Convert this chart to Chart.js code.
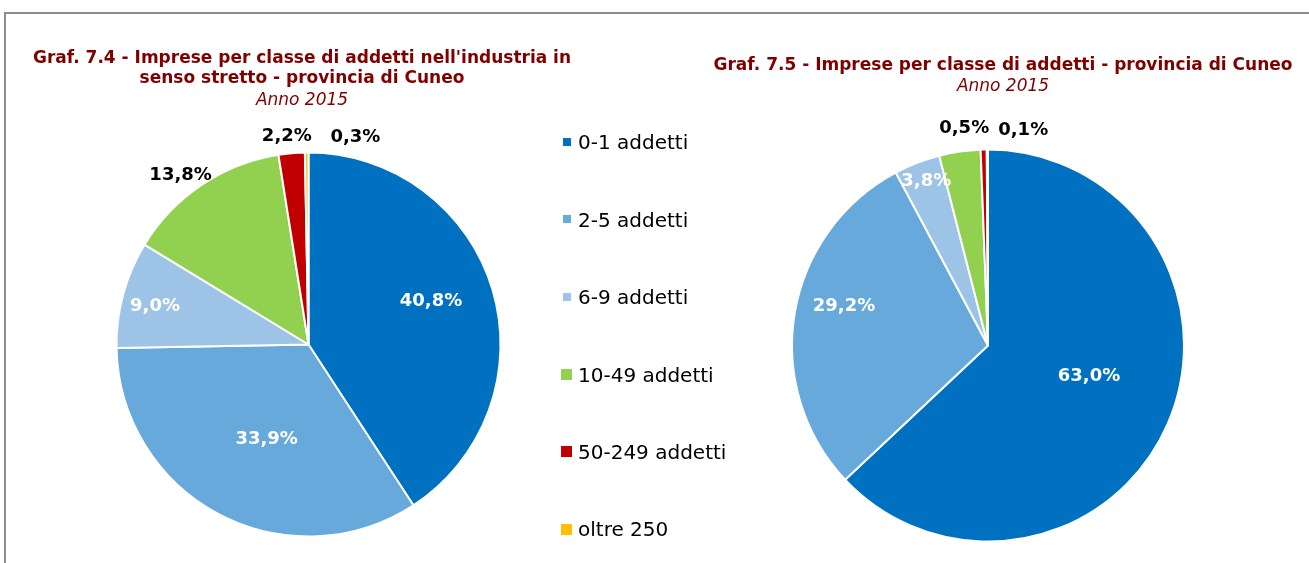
<!DOCTYPE html>
<html>
<head>
<meta charset="utf-8">
<script src="https://cdn.jsdelivr.net/npm/chart.js@4.4.1/dist/chart.umd.min.js"></script>
<style>
  html, body { margin: 0; padding: 0; background: #ffffff; width: 1309px; height: 563px; overflow: hidden;
    font-family: "DejaVu Sans", Verdana, sans-serif; }
  #frame { position: absolute; left: 4px; top: 12px; width: 1320px; height: 600px;
    border-top: 2px solid #8c8c8c; border-left: 2px solid #8c8c8c; }
  canvas { position: absolute; top: 0; }
  .title { position: absolute; width: 600px; text-align: center; color: #800000; font-size: 17px;
    line-height: 20px; font-weight: bold; white-space: nowrap; }
  .title .sub { font-weight: normal; font-style: italic; }
  .legend-item { position: absolute; height: 24px; line-height: 24px; font-size: 20px; color: #000; white-space: nowrap; }
  .legend-box { position: absolute; }
</style>
</head>
<body>
<div id="frame"></div>
<canvas id="pieLeft" width="640" height="563" style="left:0px"></canvas>
<canvas id="pieRight" width="669" height="563" style="left:640px"></canvas>

<div class="title" style="left:2px; top:47px;">
  <div>Graf. 7.4 - Imprese per classe di addetti nell'industria in</div>
  <div>senso stretto - provincia di Cuneo</div>
  <div class="sub" style="margin-top:2px;">Anno 2015</div>
</div>
<div class="title" style="left:703px; top:54px;">
  <div>Graf. 7.5 - Imprese per classe di addetti - provincia di Cuneo</div>
  <div class="sub" style="margin-top:1px;">Anno 2015</div>
</div>
<div id="legend"></div>

<script>
// ---- Data ----
const categories = ['0-1 addetti', '2-5 addetti', '6-9 addetti', '10-49 addetti', '50-249 addetti', 'oltre 250'];
const industriaValues = [40.8, 33.9, 9.0, 13.8, 2.2, 0.3];   // Graf. 7.4
const totaleValues = [63.0, 29.2, 3.8, 3.4, 0.5, 0.1];       // Graf. 7.5 (10-49 not labelled, estimated)

// ---- Styles ----
const sliceColors = ['#0070C0', '#67A9DB', '#9DC3E6', '#92D050', '#C00000', '#FFC000'];
const legendBoxSizes = [8, 8, 8, 11, 11, 11];

// Build HTML legend from categories
const legendEl = document.getElementById('legend');
categories.forEach((name, i) => {
  const top = 130.4 + i * 77.4;
  const s = legendBoxSizes[i];
  const box = document.createElement('div');
  box.className = 'legend-box';
  box.style.width = s + 'px';
  box.style.height = s + 'px';
  box.style.background = sliceColors[i];
  box.style.left = (566.5 - s / 2) + 'px';
  box.style.top = (top + 11.6 - s / 2) + 'px';
  legendEl.appendChild(box);
  const item = document.createElement('div');
  item.className = 'legend-item';
  item.style.left = '578px';
  item.style.top = top + 'px';
  item.textContent = name;
  legendEl.appendChild(item);
});

// Percentage labels plugin (positions derived from the arc geometry)
function makeLabelPlugin(cfg) {
  return {
    id: 'sliceLabels',
    afterDatasetsDraw(chart) {
      const ctx = chart.ctx;
      const meta = chart.getDatasetMeta(0);
      const data = chart.data.datasets[0].data;
      ctx.save();
      ctx.font = 'bold 18px "DejaVu Sans", Verdana, sans-serif';
      ctx.textAlign = 'center';
      ctx.textBaseline = 'middle';
      meta.data.forEach((arc, i) => {
        if (cfg.hidden[i]) return;
        const p = arc.getProps(['x', 'y', 'startAngle', 'endAngle', 'outerRadius'], true);
        const mid = (p.startAngle + p.endAngle) / 2;
        const r = p.outerRadius * cfg.radius[i];
        const px = p.x + Math.cos(mid) * r + cfg.offset[i][0];
        const py = p.y + Math.sin(mid) * r + cfg.offset[i][1];
        ctx.fillStyle = cfg.color[i];
        ctx.fillText(data[i].toFixed(1).replace('.', ',') + '%', px, py);
      });
      ctx.restore();
    }
  };
}

function makePie(canvasId, values, radius, padding, labelCfg) {
  return new Chart(document.getElementById(canvasId), {
    type: 'pie',
    data: {
      labels: categories,
      datasets: [{
        data: values,
        backgroundColor: sliceColors,
        borderColor: '#ffffff',
        borderWidth: 2,
        radius: radius
      }]
    },
    options: {
      responsive: false,
      animation: false,
      events: [],
      radius: radius,
      layout: { padding: padding },
      plugins: {
        legend: { display: false },
        title: { display: false },
        tooltip: { enabled: false }
      }
    },
    plugins: [makeLabelPlugin(labelCfg)]
  });
}

makePie('pieLeft', industriaValues, 192, { left: 0, right: 23, top: 126, bottom: 0 }, {
  radius: [0.68, 0.54, 0.82, 1.10, 1.09, 1.08],
  offset: [[-2.6, -5.6], [6.7, 3.4], [-1.5, 2.5], [-10.3, 6], [-3.3, 0], [48.9, 0.4]],
  color: ['#ffffff', '#ffffff', '#ffffff', '#000000', '#000000', '#000000'],
  hidden: [false, false, false, false, false, false]
});

makePie('pieRight', totaleValues, 196, { left: 27, right: 0, top: 128, bottom: 0 }, {
  radius: [0.54, 0.76, 0.90, 0.9, 1.11, 1.10],
  offset: [[3.9, -10.8], [3, -14.6], [2.2, 0], [0, 0], [-19, 0.3], [35.9, 0]],
  color: ['#ffffff', '#ffffff', '#ffffff', '#ffffff', '#000000', '#000000'],
  hidden: [false, false, false, true, false, false]
});
</script>
</body>
</html>
